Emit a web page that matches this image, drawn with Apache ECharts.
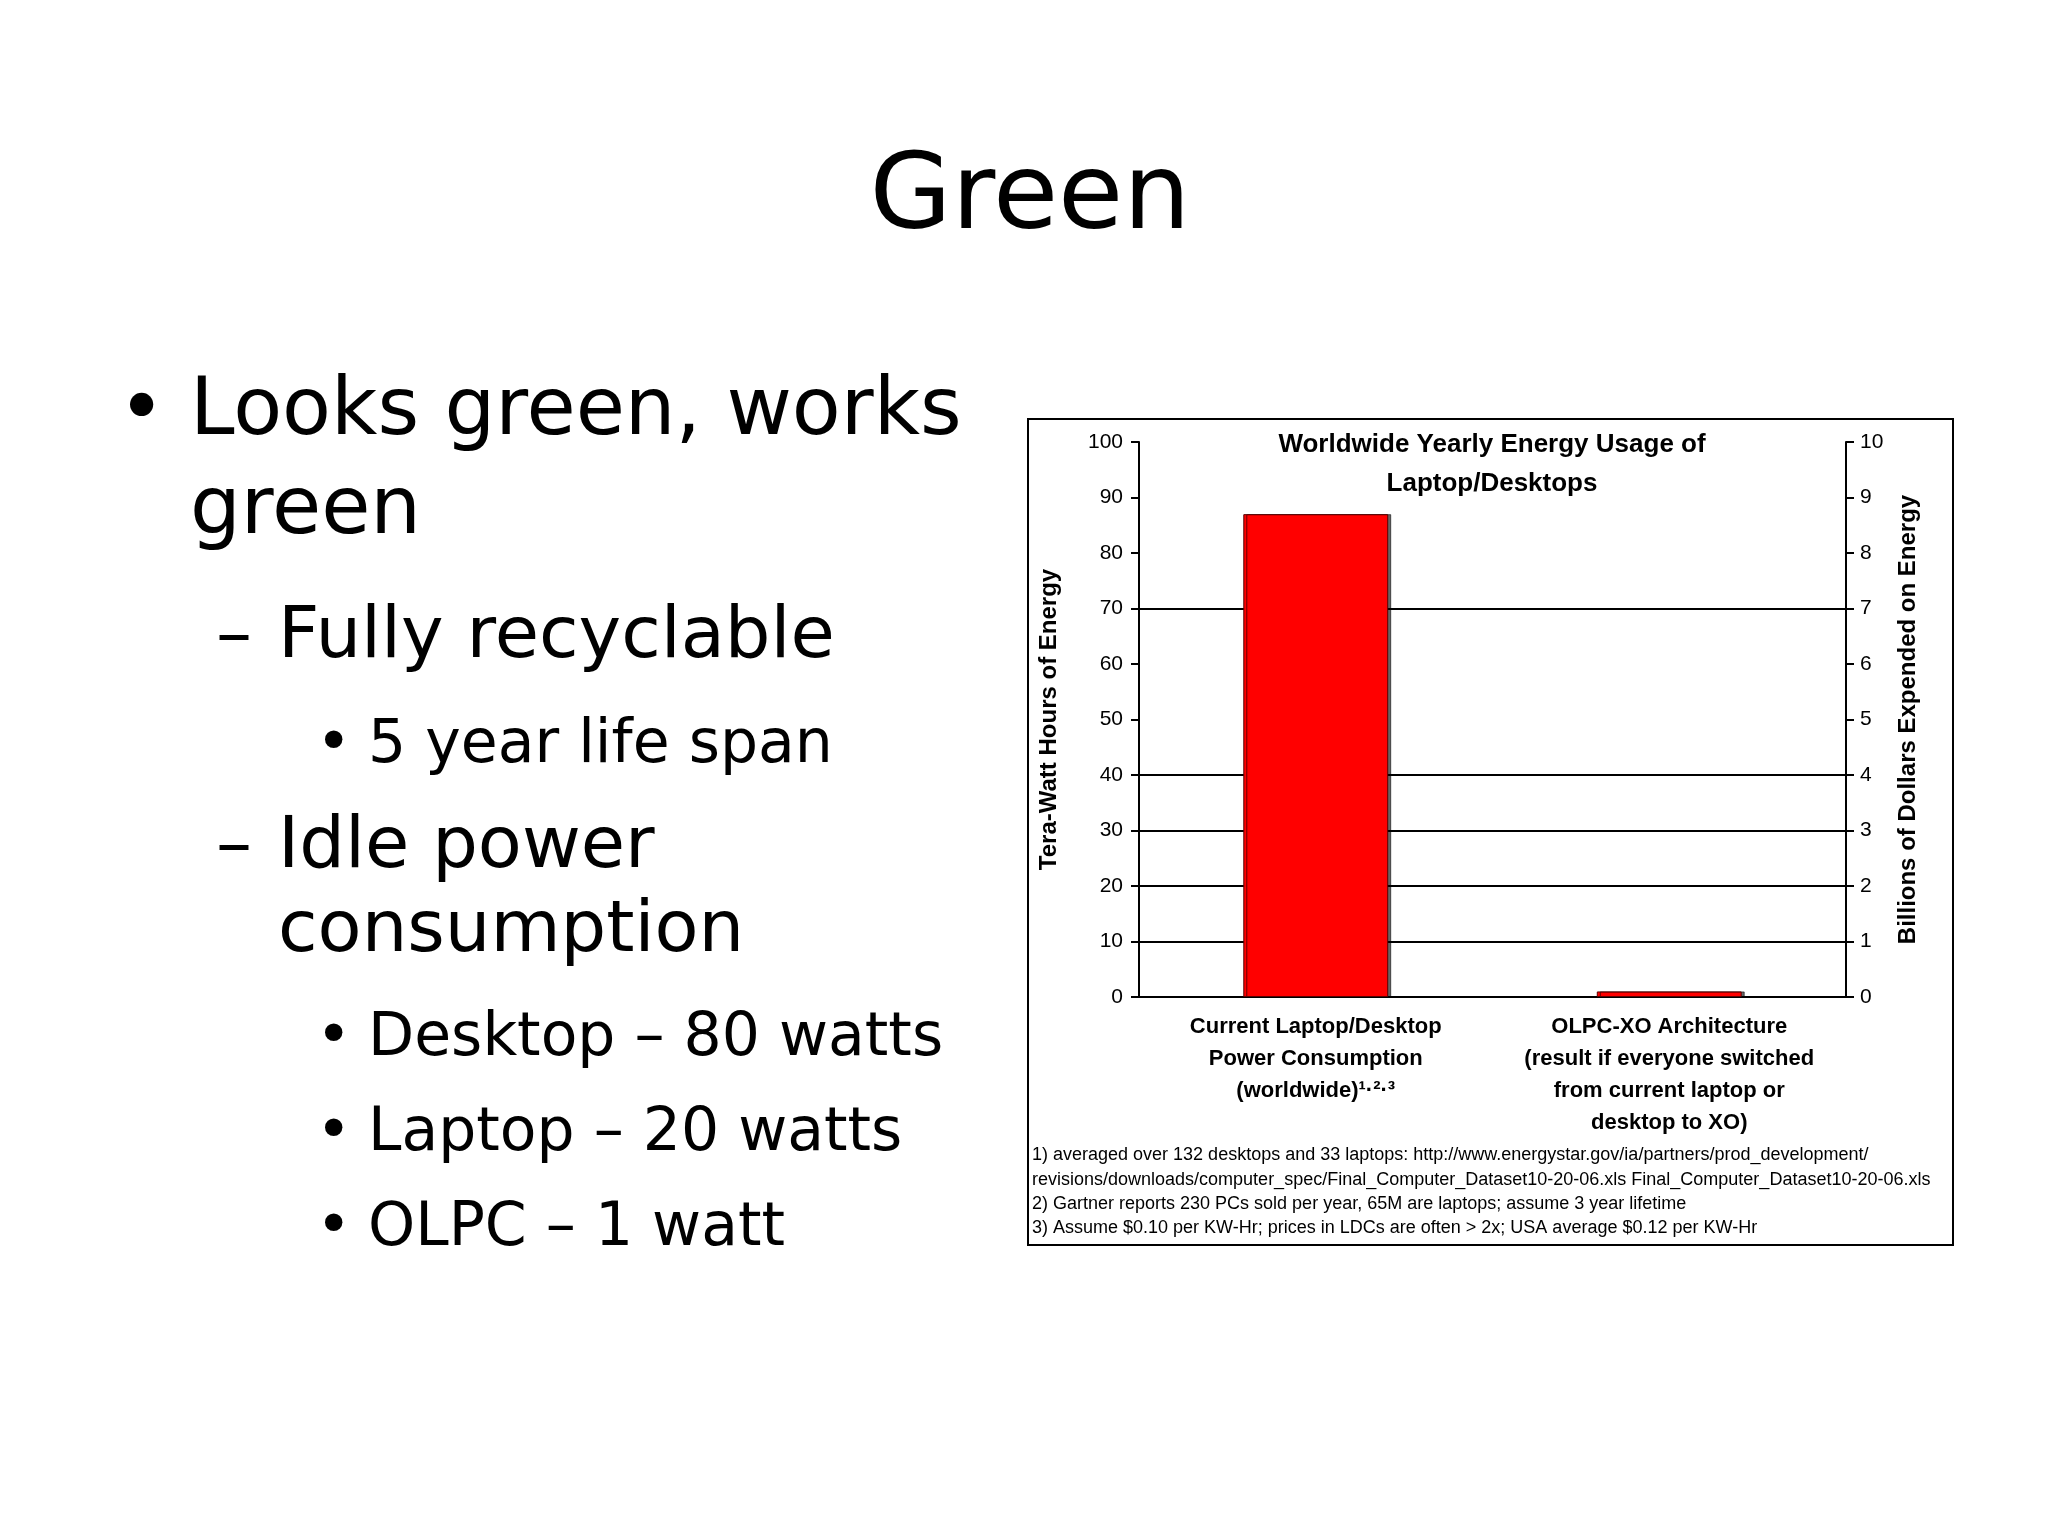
<!DOCTYPE html>
<html>
<head>
<meta charset="utf-8">
<script src="https://cdn.jsdelivr.net/npm/echarts@6/dist/echarts.min.js"></script>
<style>html,body{margin:0;padding:0;background:#fff}#main{width:2048px;height:1535px}</style>
</head>
<body>
<div id="main"></div>
<script>
// chart data
var categories = ['Current Laptop/Desktop\nPower Consumption\n(worldwide)¹·²·³',
                  'OLPC-XO Architecture\n(result if everyone switched\nfrom current laptop or\ndesktop to XO)'];
var energyValues = [87, 1];
var gridValues = [70, 40, 30, 20, 10];
var footnotes = [
  '1) averaged over 132 desktops and 33 laptops: http://www.energystar.gov/ia/partners/prod_development/',
  'revisions/downloads/computer_spec/Final_Computer_Dataset10-20-06.xls Final_Computer_Dataset10-20-06.xls',
  '2) Gartner reports 230 PCs sold per year, 65M are laptops; assume 3 year lifetime',
  '3) Assume $0.10 per KW-Hr; prices in LDCs are often > 2x; USA average $0.12 per KW-Hr'
];

var slideFont = '"DejaVu Sans", sans-serif';
var chartFont = '"Liberation Sans", Arial, sans-serif';

function txt(x, y, s, size, extra) {
  var st = { x: x, y: y, text: s, font: size + 'px ' + slideFont, fill: '#000', textVerticalAlign: 'middle' };
  for (var k in extra) st[k] = extra[k];
  return { type: 'text', style: st };
}

var graphics = [
  { type: 'rect', shape: { x: 1028, y: 419, width: 925, height: 826 }, style: { fill: 'none', stroke: '#000', lineWidth: 2 }, z: -1 },
  txt(1030, 200, 'Green', 106, { textAlign: 'center' }),
  txt(118, 413, '•', 80),
  txt(190, 413, 'Looks green, works', 80),
  txt(190, 512, 'green', 80),
  txt(216, 638, '–', 72),
  txt(278, 638, 'Fully recyclable', 72),
  txt(316, 746, '•', 60),
  txt(368, 746, '5 year life span', 60),
  txt(216, 848, '–', 72),
  txt(278, 848, 'Idle power', 72),
  txt(278, 932, 'consumption', 72),
  txt(316, 1039, '•', 60),
  txt(368, 1039, 'Desktop – 80 watts', 60),
  txt(316, 1134, '•', 60),
  txt(368, 1134, 'Laptop – 20 watts', 60),
  txt(316, 1229, '•', 60),
  txt(368, 1229, 'OLPC – 1 watt', 60),
  { type: 'text', style: { x: 1492, y: 445, text: 'Worldwide Yearly Energy Usage of', font: 'bold 26px ' + chartFont, fill: '#000', textAlign: 'center', textVerticalAlign: 'middle' } },
  { type: 'text', style: { x: 1492, y: 484, text: 'Laptop/Desktops', font: 'bold 26px ' + chartFont, fill: '#000', textAlign: 'center', textVerticalAlign: 'middle' } }
];
var fy = [1155, 1180, 1204, 1228];
footnotes.forEach(function (s, i) {
  graphics.push({ type: 'text', style: { x: 1032, y: fy[i], text: s, font: '18px ' + chartFont, fill: '#000', textVerticalAlign: 'middle' } });
});

var chart = echarts.init(document.getElementById('main'));
chart.setOption({
  animation: false,
  textStyle: { fontFamily: chartFont },
  grid: { left: 1139, right: 202, top: 442, bottom: 538 },
  xAxis: {
    type: 'category', data: categories,
    axisLine: { lineStyle: { color: '#000', width: 2 } },
    axisTick: { length: 10, lineStyle: { color: '#000', width: 2 } },
    axisLabel: { interval: 0, color: '#000', fontSize: 22, fontWeight: 'bold', lineHeight: 32, margin: 14, verticalAlign: 'top' }
  },
  yAxis: [{
    type: 'value', min: 0, max: 100, interval: 10,
    name: 'Tera-Watt Hours of Energy', nameLocation: 'middle', nameGap: 78, nameRotate: 90,
    nameTextStyle: { color: '#000', fontSize: 24, fontWeight: 'bold' },
    axisLine: { show: true, lineStyle: { color: '#000', width: 2 } },
    axisTick: { show: true, length: 8, lineStyle: { color: '#000', width: 2 } },
    axisLabel: { color: '#000', fontSize: 21, margin: 16 },
    splitLine: { show: false }
  }, {
    type: 'value', min: 0, max: 10, interval: 1,
    name: 'Billions of Dollars Expended on Energy', nameLocation: 'middle', nameGap: 50, nameRotate: 90,
    nameTextStyle: { color: '#000', fontSize: 24, fontWeight: 'bold' },
    axisLine: { show: true, lineStyle: { color: '#000', width: 2 } },
    axisTick: { show: true, length: 8, lineStyle: { color: '#000', width: 2 } },
    axisLabel: { color: '#000', fontSize: 21, margin: 14 },
    splitLine: { show: false }
  }],
  series: [{
    type: 'bar', data: energyValues, barWidth: '41%', z: 3,
    itemStyle: { color: '#ff0000', borderColor: '#5a0000', borderWidth: 1, shadowColor: 'rgba(0,0,0,0.6)', shadowOffsetX: 3, shadowOffsetY: 0 },
    markLine: {
      silent: true, symbol: 'none', z: 1, label: { show: false },
      lineStyle: { color: '#000', width: 2, type: 'solid' },
      data: gridValues.map(function (v) { return { yAxis: v }; })
    }
  }],
  graphic: graphics
});
</script>
</body>
</html>
